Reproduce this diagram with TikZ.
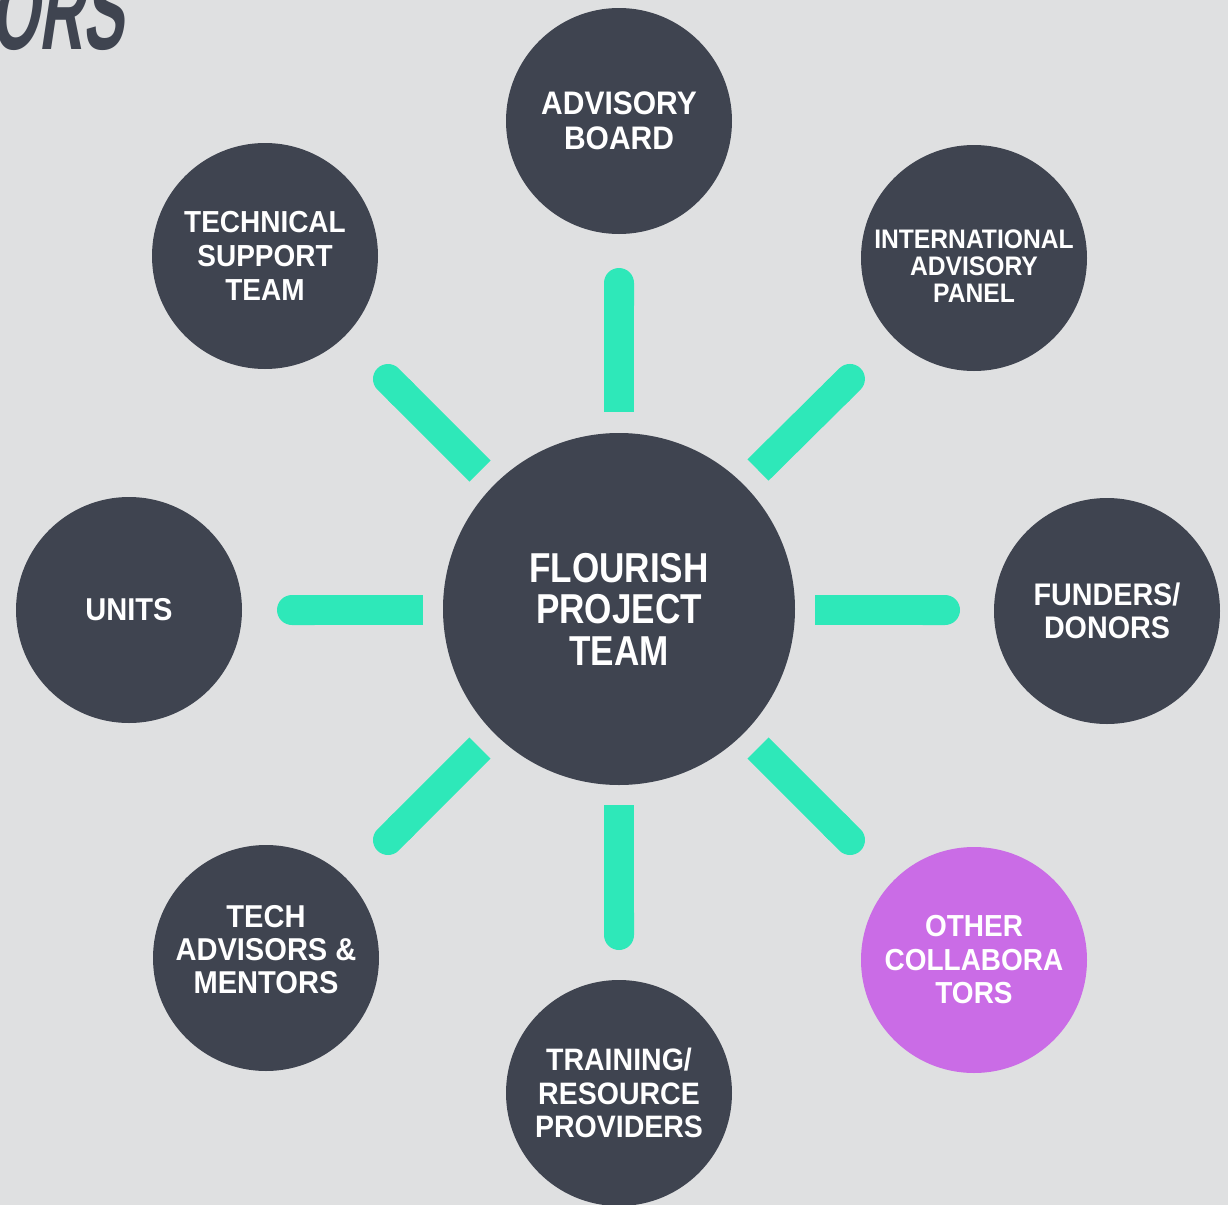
\documentclass[tikz,border=0pt]{standalone}
\usepackage{fontspec}
\usetikzlibrary{arrows.meta}
\newfontfamily\lblfont[FakeStretch=0.92]{Liberation Sans}
\newfontfamily\ctrfont[FakeStretch=0.84]{Liberation Sans}
\newfontfamily\headfont[FakeStretch=0.55,FakeSlant=0.15]{Liberation Sans}
\definecolor{bg}{HTML}{DFE0E1}
\definecolor{disc}{HTML}{3F4450}
\definecolor{spoke}{HTML}{2EE8B9}
\definecolor{violet}{HTML}{CA6CE6}
\begin{document}
\begin{tikzpicture}[x=0.5pt,y=-0.5pt,
  hub/.style={circle, fill=disc, inner sep=0pt, minimum size=176pt, text=white, align=center,
    font=\ctrfont\bfseries\fontsize{20.9}{20.75}\selectfont},
  sat/.style={circle, fill=disc, inner sep=0pt, minimum size=113pt, text=white, align=center,
    font=\lblfont\bfseries\fontsize{15.5}{16.75}\selectfont},
  lbl/.style={inner sep=0pt, text=white, align=center},
  spokeline/.style={draw=spoke, line width=15pt, line cap=butt, -{Round Cap[]}}
]
\useasboundingbox (0,0) rectangle (1228,1205);
\clip (0,0) rectangle (1228,1205);
\fill[bg] (0,0) rectangle (1228,1205);

\node[anchor=base east, text=disc, inner sep=0pt,
  font=\headfont\bfseries\fontsize{56}{56}\selectfont] (head) at (124,49) {ORS};

\node[hub] (hub) at (619,609) {FLOURISH\\PROJECT\\TEAM};

\node[sat, font=\lblfont\bfseries\fontsize{16.3}{17.5}\selectfont] (adv) at (619,121) {ADVISORY\\BOARD};
\node[sat, font=\lblfont\bfseries\fontsize{15.2}{17}\selectfont] (tech) at (265,256) {TECHNICAL\\SUPPORT\\TEAM};
\node[sat] (intl) at (974,258) {};
\node[lbl, font=\lblfont\bfseries\fontsize{13.4}{13.4}\selectfont] (intlT) at (974,266) {INTERNATIONAL\\ADVISORY\\PANEL};
\node[sat, font=\lblfont\bfseries\fontsize{15.8}{16.5}\selectfont] (units) at (129,610) {UNITS};
\node[sat, font=\lblfont\bfseries\fontsize{15.6}{16.7}\selectfont] (fund) at (1107,611) {FUNDERS/\\DONORS};
\node[sat] (ment) at (266,958) {};
\node[lbl, font=\lblfont\bfseries\fontsize{15.8}{16.5}\selectfont] (mentT) at (266,950) {TECH\\ADVISORS \&\\MENTORS};
\node[sat] (train) at (619,1093) {TRAINING/\\RESOURCE\\PROVIDERS};
\node[sat, fill=violet, font=\lblfont\bfseries\fontsize{15.2}{16.75}\selectfont] (other) at (974,960) {OTHER\\COLLABORA\\TORS};

% spoke end points
\coordinate (iT) at (619,412); \coordinate (oT) at (619,268);
\coordinate (iL) at (423,610); \coordinate (oL) at (277,610);
\coordinate (iR) at (815,610); \coordinate (oR) at (960,610);
\coordinate (iB) at (619,805); \coordinate (oB) at (619,950);
\coordinate (iUL) at (480,471); \coordinate (oUL) at (377.4,368.4);
\coordinate (iUR) at (758,470); \coordinate (oUR) at (860.6,368.4);
\coordinate (iLL) at (480,748); \coordinate (oLL) at (377.4,850.6);
\coordinate (iLR) at (758,748); \coordinate (oLR) at (860.6,850.6);

\foreach \s in {T,L,R,B,UL,UR,LL,LR}
  \draw[spokeline] (i\s) -- (o\s);
\end{tikzpicture}
\end{document}
